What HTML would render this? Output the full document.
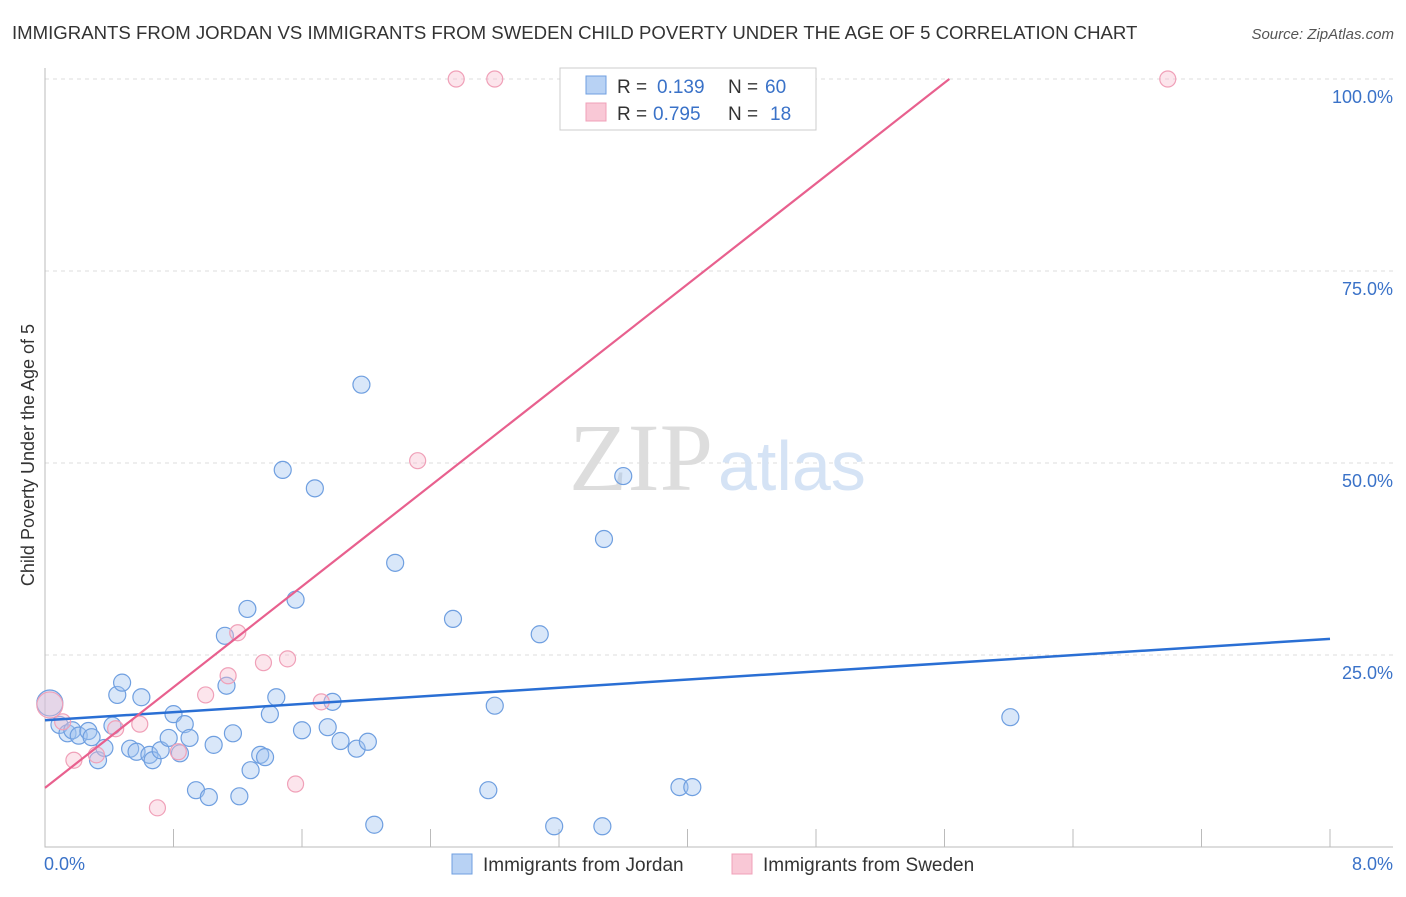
<!DOCTYPE html>
<html><head><meta charset="utf-8"><style>
body{margin:0;background:#fff;font-family:"Liberation Sans",sans-serif;}
</style></head><body>
<svg width="1406" height="892" xmlns="http://www.w3.org/2000/svg">
<text x="12" y="39" font-size="18.6" fill="#333">IMMIGRANTS FROM JORDAN VS IMMIGRANTS FROM SWEDEN CHILD POVERTY UNDER THE AGE OF 5 CORRELATION CHART</text>
<text x="1394" y="39" font-size="15" fill="#555" font-style="italic" text-anchor="end">Source: ZipAtlas.com</text>
<g id="grid"></g>
<text x="713" y="490" font-size="96" fill="#ddd" text-anchor="end" font-family="Liberation Serif">ZIP</text>
<text x="718" y="490" font-size="70" fill="#d5e3f5">atlas</text>
<g id="pts"></g>
<g id="lines"></g>
<text x="34" y="455" font-size="18" fill="#333" text-anchor="middle" transform="rotate(-90 34 455)">Child Poverty Under the Age of 5</text>
<text x="44" y="870" font-size="18" fill="#3a72c8">0.0%</text>
<text x="1393" y="870" font-size="18" fill="#3a72c8" text-anchor="end">8.0%</text>
<g>
<rect x="560" y="68" width="256" height="62" fill="#fff" stroke="#ccc"/>
<rect x="586" y="76" width="20" height="18" fill="#b8d2f4" stroke="#6f9fe0"/>
<rect x="586" y="103" width="20" height="18" fill="#f9c8d6" stroke="#f0a0b8"/>
<text x="617" y="93" font-size="19" fill="#333">R =</text>
<text x="657" y="93" font-size="19" fill="#3a72c8">0.139</text>
<text x="728" y="93" font-size="19" fill="#333">N =</text>
<text x="765" y="93" font-size="19" fill="#3a72c8">60</text>
<text x="617" y="120" font-size="19" fill="#333">R =</text>
<text x="653" y="120" font-size="19" fill="#3a72c8">0.795</text>
<text x="728" y="120" font-size="19" fill="#333">N =</text>
<text x="770" y="120" font-size="19" fill="#3a72c8">18</text>
</g>
<g>
<rect x="452" y="854" width="20" height="20" fill="#b8d2f4" stroke="#6f9fe0"/>
<text x="483" y="871" font-size="19" fill="#333">Immigrants from Jordan</text>
<rect x="732" y="854" width="20" height="20" fill="#f9c8d6" stroke="#f0a0b8"/>
<text x="763" y="871" font-size="19" fill="#333">Immigrants from Sweden</text>
</g>
</svg>
<script>
const yTicks=[25,50,75,100];
const yTickLabels=["25.0%","50.0%","75.0%","100.0%"];
const blueX=[0.03,0.09,0.14,0.17,0.21,0.27,0.29,0.33,0.37,0.42,0.45,0.48,0.53,0.57,0.60,0.65,0.67,0.72,0.77,0.80,0.84,0.87,0.90,0.94,1.02,1.05,1.12,1.13,1.17,1.21,1.26,1.28,1.34,1.37,1.40,1.44,1.48,1.56,1.60,1.68,1.76,1.79,1.84,1.94,1.97,2.01,2.05,2.18,2.54,2.76,2.80,3.08,3.17,3.47,3.48,3.60,3.95,4.03,6.01];
const blueY=[18.75,15.9,14.8,15.2,14.5,15.1,14.3,11.3,12.9,15.8,19.8,21.4,12.8,12.4,19.5,12.0,11.3,12.6,14.2,17.3,12.2,16.0,14.2,7.4,6.5,13.3,27.5,21.0,14.8,6.6,31.0,10.0,12.0,11.7,17.3,19.5,49.1,32.2,15.2,46.7,15.6,18.9,13.8,12.8,60.2,13.7,2.9,37.0,29.7,7.4,18.4,27.7,2.7,2.7,40.1,48.3,7.8,7.8,16.9];
const pinkX=[0.03,0.11,0.18,0.32,0.44,0.59,0.70,0.83,1.00,1.14,1.20,1.36,1.51,1.56,1.72,2.32,2.56,2.80,6.99];
const pinkY=[18.5,16.3,11.3,12.0,15.4,16.0,5.1,12.4,19.8,22.3,27.9,24.0,24.5,8.2,18.9,50.3,100,100,100];
const blueFit=[16.5,27.1];
const pinkFit=[7.7,100,5.63];
const NS="http://www.w3.org/2000/svg";
const xs=v=>45+v/8*1285, ys=v=>847-v*7.68;
function mk(t,a,p){const e=document.createElementNS(NS,t);for(const k in a)e.setAttribute(k,a[k]);p.appendChild(e);return e;}
const g=document.getElementById('grid');
yTicks.forEach((t,i)=>{
 const l=mk('line',{x1:45,x2:1393,y1:ys(t),y2:ys(t),stroke:'#ddd','stroke-dasharray':'4 4'},g);
 
 
 const tx=mk('text',{x:1393,y:ys(t)+24,'font-size':18,fill:'#3a72c8','text-anchor':'end'},g);
 tx.textContent=yTickLabels[i];
 
 
});
const ax=mk('path',{d:'M45 68 V847 H1393',fill:'none',stroke:'#bbb'},g);


for(let i=1;i<=10;i++){const t=mk('line',{x1:xs(i*0.8),x2:xs(i*0.8),y1:829,y2:847,stroke:'#bbb'},g);
 
 }
const P=document.getElementById('pts');
blueX.forEach((x,i)=>{const c=mk('circle',{cx:xs(x),cy:ys(blueY[i]),r:i==0?13:8.5,fill:'rgba(160,195,240,0.4)',stroke:'#6f9fe0','stroke-width':1.2},P);
 
 });
pinkX.forEach((x,i)=>{const c=mk('circle',{cx:xs(x),cy:ys(pinkY[i]),r:i==0?13:8,fill:'rgba(248,190,208,0.4)',stroke:'#f0a0b8','stroke-width':1.2},P);
 
 });
const L=document.getElementById('lines');
const bl=mk('line',{x1:xs(0),y1:ys(blueFit[0]),x2:xs(8),y2:ys(blueFit[1]),stroke:'#2a6fd4','stroke-width':2.5},L);


const pl=mk('line',{x1:xs(0),y1:ys(pinkFit[0]),x2:xs(pinkFit[2]),y2:ys(pinkFit[1]),stroke:'#e8608e','stroke-width':2.2},L);


</script>
</body></html>
